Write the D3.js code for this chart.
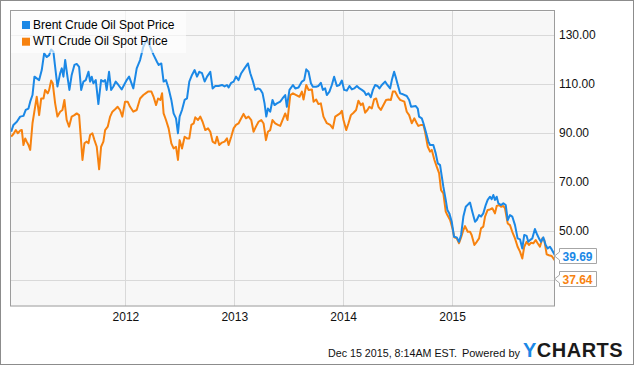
<!DOCTYPE html>
<html>
<head>
<meta charset="utf-8">
<script src="https://cdn.jsdelivr.net/npm/d3@7"></script>
<style>
  body { margin: 0; background: #fff; }
  svg { display: block; font-family: "Liberation Sans", Arial, sans-serif; }
  .grid line { stroke: #d9d9d9; stroke-width: 1; }
  .tick text { fill: #111; font-size: 12px; }
</style>
</head>
<body>
<script>
var width = 635,
    height = 366;

// decimal years
var brentYear = [2010.951, 2010.972, 2011.003, 2011.034, 2011.064, 2011.085, 2011.110, 2011.126, 2011.147, 2011.165,
    2011.186, 2011.208, 2011.232, 2011.254, 2011.278, 2011.300, 2011.318, 2011.339, 2011.355, 2011.376,
    2011.401, 2011.416, 2011.431, 2011.447, 2011.468, 2011.486, 2011.507, 2011.532, 2011.553, 2011.575,
    2011.594, 2011.615, 2011.636, 2011.661, 2011.676, 2011.691, 2011.706, 2011.728, 2011.752, 2011.777,
    2011.798, 2011.814, 2011.828, 2011.850, 2011.869, 2011.890, 2011.911, 2011.936, 2011.966, 2012.012,
    2012.034, 2012.073, 2012.104, 2012.135, 2012.165, 2012.195, 2012.214, 2012.260, 2012.291, 2012.306,
    2012.330, 2012.351, 2012.373, 2012.397, 2012.422, 2012.443, 2012.465, 2012.483, 2012.498, 2012.520,
    2012.544, 2012.566, 2012.587, 2012.612, 2012.636, 2012.658, 2012.679, 2012.704, 2012.728, 2012.750,
    2012.780, 2012.801, 2012.826, 2012.856, 2012.887, 2012.911, 2012.933, 2012.948, 2012.972, 2012.994,
    2013.016, 2013.039, 2013.064, 2013.094, 2013.126, 2013.147, 2013.168, 2013.193, 2013.217, 2013.239,
    2013.260, 2013.278, 2013.294, 2013.309, 2013.330, 2013.351, 2013.370, 2013.392, 2013.422, 2013.443,
    2013.468, 2013.483, 2013.507, 2013.539, 2013.560, 2013.590, 2013.621, 2013.642, 2013.661, 2013.682,
    2013.704, 2013.722, 2013.752, 2013.773, 2013.795, 2013.814, 2013.835, 2013.850, 2013.874, 2013.896,
    2013.917, 2013.942, 2013.966, 2013.988, 2014.009, 2014.034, 2014.058, 2014.080, 2014.101, 2014.126,
    2014.150, 2014.172, 2014.193, 2014.211, 2014.232, 2014.254, 2014.273, 2014.294, 2014.315, 2014.333,
    2014.355, 2014.385, 2014.406, 2014.431, 2014.447, 2014.468, 2014.486, 2014.502, 2014.523, 2014.550,
    2014.584, 2014.606, 2014.624, 2014.667, 2014.685, 2014.697, 2014.722, 2014.737, 2014.759, 2014.783,
    2014.798, 2014.828, 2014.850, 2014.869, 2014.890, 2014.906, 2014.920, 2014.942, 2014.957, 2014.975,
    2014.997, 2015.018, 2015.043, 2015.064, 2015.083, 2015.104, 2015.126, 2015.150, 2015.165, 2015.186,
    2015.211, 2015.227, 2015.248, 2015.266, 2015.287, 2015.309, 2015.327, 2015.349, 2015.364, 2015.379,
    2015.394, 2015.410, 2015.425, 2015.450, 2015.471, 2015.493, 2015.511, 2015.532, 2015.553, 2015.578,
    2015.602, 2015.624, 2015.645, 2015.663, 2015.685, 2015.700, 2015.716, 2015.737, 2015.761, 2015.777,
    2015.798, 2015.817, 2015.838, 2015.860, 2015.878, 2015.899, 2015.915, 2015.950];

var brentPrice = [90.5, 93.3, 94.6, 96.7, 97.0, 99.4, 100.0, 102.8, 105.5, 113.0,
    112.3, 111.6, 115.7, 122.5, 121.0, 121.8, 124.1, 123.2, 117.0, 109.0,
    114.4, 116.4, 113.0, 119.8, 113.0, 107.6, 113.7, 117.8, 118.2, 117.0,
    107.6, 111.0, 111.6, 115.0, 111.0, 113.0, 110.3, 111.6, 101.8, 111.6,
    111.0, 111.6, 107.6, 115.0, 107.6, 109.0, 111.0, 109.6, 107.8, 111.6,
    113.0, 108.2, 116.4, 119.8, 125.2, 128.0, 126.6, 121.8, 119.0, 117.8,
    118.4, 111.0, 111.6, 108.2, 103.5, 98.0, 96.0, 89.9, 96.7, 99.4,
    103.5, 104.1, 111.0, 113.7, 115.7, 113.0, 115.0, 114.4, 111.0, 113.0,
    115.0, 108.2, 109.2, 109.2, 109.6, 109.0, 109.6, 108.6, 110.5, 111.0,
    113.0, 111.6, 114.4, 116.4, 118.4, 114.4, 111.6, 107.6, 108.2, 107.8,
    106.2, 102.1, 96.7, 100.0, 98.7, 103.5, 101.4, 102.1, 102.8, 104.1,
    105.5, 100.7, 107.6, 109.6, 108.2, 108.6, 111.0, 111.6, 116.0, 115.0,
    110.3, 108.9, 108.9, 109.2, 110.5, 107.6, 108.2, 105.5, 106.9, 109.6,
    113.0, 109.2, 109.6, 111.4, 107.6, 107.3, 109.2, 107.8, 108.2, 109.2,
    108.2, 107.6, 106.9, 105.5, 106.2, 104.6, 107.6, 109.6, 109.2, 108.2,
    109.6, 111.0, 109.6, 108.2, 111.6, 115.0, 112.3, 109.6, 106.2, 105.8,
    105.1, 103.5, 100.7, 101.0, 100.0, 96.7, 96.0, 94.0, 90.5, 86.5,
    85.1, 85.1, 81.7, 77.6, 76.9, 72.2, 68.1, 62.7, 58.6, 57.2,
    53.8, 47.7, 47.4, 45.6, 48.4, 55.9, 59.9, 61.0, 61.6, 57.9,
    53.8, 54.5, 56.5, 55.9, 57.2, 60.6, 62.7, 64.0, 63.0, 64.7,
    62.7, 64.0, 61.3, 60.6, 61.3, 60.6, 54.5, 56.5, 55.9, 52.4,
    47.0, 46.6, 42.9, 48.4, 48.0, 45.6, 46.3, 47.0, 50.8, 49.0,
    47.0, 45.6, 47.4, 44.3, 42.9, 43.6, 42.5, 39.69];

var wtiYear = [2010.951, 2010.972, 2010.994, 2011.012, 2011.034, 2011.049, 2011.064, 2011.080, 2011.094, 2011.110,
    2011.126, 2011.147, 2011.171, 2011.186, 2011.208, 2011.227, 2011.248, 2011.263, 2011.287, 2011.300,
    2011.318, 2011.333, 2011.355, 2011.376, 2011.401, 2011.422, 2011.440, 2011.461, 2011.483, 2011.507,
    2011.532, 2011.553, 2011.575, 2011.606, 2011.624, 2011.645, 2011.661, 2011.676, 2011.697, 2011.716,
    2011.737, 2011.759, 2011.777, 2011.798, 2011.814, 2011.838, 2011.860, 2011.881, 2011.906, 2011.929,
    2011.951, 2011.972, 2011.997, 2012.021, 2012.043, 2012.073, 2012.104, 2012.135, 2012.165, 2012.195,
    2012.208, 2012.239, 2012.260, 2012.282, 2012.300, 2012.321, 2012.337, 2012.351, 2012.373, 2012.397,
    2012.422, 2012.443, 2012.465, 2012.483, 2012.498, 2012.520, 2012.544, 2012.566, 2012.587, 2012.606,
    2012.627, 2012.642, 2012.667, 2012.688, 2012.709, 2012.734, 2012.759, 2012.780, 2012.801, 2012.826,
    2012.841, 2012.862, 2012.887, 2012.911, 2012.933, 2012.948, 2012.972, 2012.994, 2013.016, 2013.039,
    2013.064, 2013.085, 2013.107, 2013.131, 2013.156, 2013.177, 2013.199, 2013.223, 2013.248, 2013.269,
    2013.291, 2013.309, 2013.330, 2013.351, 2013.376, 2013.401, 2013.422, 2013.443, 2013.468, 2013.489,
    2013.514, 2013.539, 2013.569, 2013.599, 2013.621, 2013.636, 2013.661, 2013.682, 2013.713, 2013.728,
    2013.752, 2013.773, 2013.795, 2013.819, 2013.850, 2013.881, 2013.905, 2013.927, 2013.948, 2013.972,
    2013.988, 2014.003, 2014.028, 2014.049, 2014.071, 2014.095, 2014.119, 2014.140, 2014.162, 2014.181,
    2014.202, 2014.223, 2014.241, 2014.263, 2014.284, 2014.303, 2014.324, 2014.346, 2014.370, 2014.394,
    2014.416, 2014.438, 2014.456, 2014.477, 2014.502, 2014.523, 2014.562, 2014.584, 2014.606, 2014.630,
    2014.654, 2014.676, 2014.691, 2014.716, 2014.737, 2014.752, 2014.777, 2014.798, 2014.814, 2014.838,
    2014.859, 2014.881, 2014.899, 2014.920, 2014.942, 2014.957, 2014.982, 2015.003, 2015.021, 2015.043,
    2015.064, 2015.083, 2015.104, 2015.119, 2015.144, 2015.165, 2015.180, 2015.205, 2015.227, 2015.248,
    2015.266, 2015.287, 2015.303, 2015.327, 2015.349, 2015.370, 2015.394, 2015.410, 2015.431, 2015.450,
    2015.471, 2015.486, 2015.511, 2015.532, 2015.553, 2015.578, 2015.602, 2015.624, 2015.645, 2015.663,
    2015.685, 2015.706, 2015.725, 2015.746, 2015.768, 2015.786, 2015.807, 2015.829, 2015.847, 2015.869,
    2015.890, 2015.915, 2015.950];

var wtiPrice = [88.5, 89.6, 91.2, 89.9, 91.0, 91.2, 85.1, 87.8, 86.5, 85.1,
    83.1, 94.0, 100.7, 104.8, 97.3, 104.1, 104.1, 107.6, 106.2, 107.6,
    111.4, 110.3, 102.1, 96.7, 98.7, 99.4, 103.5, 95.3, 92.6, 96.7,
    97.3, 98.0, 97.3, 79.0, 85.8, 86.5, 85.8, 89.2, 89.9, 87.1,
    84.4, 75.2, 84.4, 86.5, 91.2, 92.6, 96.7, 98.7, 99.7, 100.7,
    99.4, 96.7, 102.8, 102.8, 100.7, 98.7, 99.4, 104.1, 105.5, 106.5,
    106.9, 106.9, 104.6, 101.4, 104.1, 103.5, 106.2, 98.0, 95.3, 91.9,
    85.8, 83.7, 84.4, 79.0, 87.1, 83.7, 88.5, 87.8, 87.8, 93.3,
    93.9, 96.4, 95.3, 96.7, 94.6, 91.2, 91.9, 90.5, 86.5, 85.8,
    88.5, 85.1, 86.1, 86.5, 87.8, 85.1, 88.5, 91.9, 93.3, 93.9,
    96.0, 97.8, 96.0, 96.7, 95.3, 90.5, 92.6, 94.6, 95.3, 93.9,
    87.1, 90.5, 91.2, 95.3, 93.9, 93.3, 92.9, 95.3, 98.0, 95.3,
    105.5, 106.2, 105.5, 104.8, 106.9, 103.7, 109.6, 107.6, 107.8, 102.8,
    103.7, 101.8, 102.1, 96.7, 94.0, 93.3, 91.9, 96.7, 97.3, 98.0,
    99.1, 95.3, 91.2, 94.0, 97.3, 98.3, 99.4, 103.2, 101.4, 102.1,
    98.3, 99.4, 100.7, 100.0, 103.7, 104.1, 100.7, 99.4, 101.4, 103.5,
    103.7, 103.5, 106.9, 106.9, 104.8, 103.5, 102.8, 98.7, 97.3, 94.0,
    96.0, 94.0, 92.9, 93.3, 93.3, 90.5, 84.4, 82.4, 83.1, 79.0,
    76.3, 73.6, 66.7, 65.4, 57.9, 56.5, 54.5, 51.1, 47.4, 47.0,
    45.0, 47.4, 50.4, 52.0, 49.7, 49.7, 48.4, 44.3, 45.6, 47.0,
    51.1, 51.8, 55.9, 58.6, 58.8, 59.3, 57.2, 60.2, 60.6, 59.9,
    60.2, 59.3, 53.1, 52.4, 49.7, 47.0, 43.6, 41.6, 38.8, 43.6,
    45.6, 44.3, 45.2, 45.0, 46.3, 45.0, 43.6, 47.0, 46.3, 40.5,
    40.1, 39.8, 37.64];

var seriesNames = ['Brent Crude Oil Spot Price', 'WTI Crude Oil Spot Price'];
var seriesColors = ['#1b88e6', '#f7820f'];
var priceTicks = [30, 50, 70, 90, 110, 130];
var yearTicks = [2012, 2013, 2014, 2015];
var stamp = 'Dec 15 2015, 8:14AM EST.';

var plot = { left: 10, right: 555, top: 11, bottom: 306 };

var svg = d3.select('body')
    .append('svg')
    .attr('width', width)
    .attr('height', height);

// outer frame
svg.append('rect')
    .attr('x', 0.5).attr('y', 0.5)
    .attr('width', width - 2).attr('height', height - 2)
    .attr('fill', '#fff')
    .attr('stroke', '#8c8c8c');

var x = d3.scaleLinear()
    .domain([2010.945, 2015.95])
    .range([plot.left + 0.5, plot.right + 0.5]);

var y = d3.scaleLinear()
    .domain([19.4, 139.8])
    .range([plot.bottom, plot.top]);

svg.append('rect')
    .attr('x', plot.left + 0.5).attr('y', plot.top + 0.5)
    .attr('width', plot.right - plot.left - 1)
    .attr('height', plot.bottom - plot.top)
    .attr('fill', '#f7f7f7');

svg.append('g')
    .attr('class', 'grid')
    .selectAll('line')
    .data(priceTicks).enter()
    .append('line')
    .attr('x1', plot.left).attr('x2', plot.right)
    .attr('y1', d => Math.round(y(d)) + 0.5)
    .attr('y2', d => Math.round(y(d)) + 0.5);

svg.append('g')
    .attr('class', 'grid')
    .selectAll('line')
    .data(yearTicks).enter()
    .append('line')
    .attr('y1', plot.top).attr('y2', plot.bottom)
    .attr('x1', d => Math.round(x(d)) + 0.5)
    .attr('x2', d => Math.round(x(d)) + 0.5);

var series = [
    { name: seriesNames[0], color: seriesColors[0], pts: d3.zip(brentYear, brentPrice) },
    { name: seriesNames[1], color: seriesColors[1], pts: d3.zip(wtiYear, wtiPrice) }
];

var line = d3.line()
    .x(d => x(d[0]))
    .y(d => y(d[1]));

svg.append('clipPath').attr('id', 'clip')
    .append('rect')
    .attr('x', plot.left).attr('y', plot.top)
    .attr('width', plot.right - plot.left).attr('height', plot.bottom - plot.top);

// WTI underneath, brent on top
svg.append('g')
    .attr('clip-path', 'url(#clip)')
    .selectAll('path')
    .data(series.slice().reverse()).enter()
    .append('path')
    .attr('d', d => line(d.pts))
    .attr('fill', 'none')
    .attr('stroke', d => d.color)
    .attr('stroke-width', 2)
    .attr('stroke-linejoin', 'round');

// plot border
svg.append('rect')
    .attr('x', plot.left + 0.5).attr('y', plot.top - 0.5)
    .attr('width', plot.right - plot.left - 1)
    .attr('height', plot.bottom - plot.top + 0.5)
    .attr('fill', 'none')
    .attr('stroke', '#9c9c9c');

// legend (washes out what's underneath)
var legend = svg.append('g');
legend.append('rect')
    .attr('x', plot.left + 1).attr('y', plot.top)
    .attr('width', 175).attr('height', 42)
    .attr('fill', '#fff')
    .attr('fill-opacity', 0.62);

var items = legend.selectAll('.item')
    .data(series).enter()
    .append('g')
    .attr('transform', (d, i) => 'translate(22,' + (21 + i * 16.7) + ')');

items.append('rect')
    .attr('width', 8).attr('height', 8)
    .attr('fill', d => d.color);

items.append('text')
    .attr('x', 11).attr('y', 7.6)
    .attr('font-size', 12)
    .attr('fill', '#000')
    .text(d => d.name);

// last-value flags
var flags = series.map(d => {
    var last = d.pts[d.pts.length - 1];
    return { color: d.color, value: last[1], cy: y(last[1]) };
});
flags.sort((a, b) => a.cy - b.cy);
var boxH = 15, gap = 8;
flags.forEach((f, i) => {
    if (i > 0 && f.cy - boxH / 2 < flags[i - 1].cy + boxH / 2 + gap)
        f.cy = flags[i - 1].cy + boxH + gap;
});

// a tick label sitting under a flag is hidden by it
var labelTicks = priceTicks.filter(t =>
    !flags.some(f => Math.abs(y(t) - f.cy) < boxH / 2 + 6));

// axes
var yAxis = d3.axisRight(y)
    .tickValues(labelTicks)
    .tickFormat(d3.format('.2f'))
    .tickSize(0)
    .tickPadding(4);

svg.append('g')
    .attr('transform', 'translate(' + plot.right + ',0)')
    .call(yAxis)
    .call(g => g.select('.domain').remove());

var xAxis = d3.axisBottom(x)
    .tickValues(yearTicks)
    .tickFormat(d3.format('d'))
    .tickSize(0)
    .tickPadding(6);

svg.append('g')
    .attr('transform', 'translate(0,' + plot.bottom + ')')
    .call(xAxis)
    .call(g => g.select('.domain').remove());

var bx = 559.5, bw = 37;
var flag = svg.append('g')
    .selectAll('g')
    .data(flags).enter()
    .append('g')
    .attr('transform', d => 'translate(0,' + Math.round(d.cy) + ')');

flag.append('path')
    .attr('d', 'M' + bx + ',-7.5H' + (bx + bw) + 'V7.5H' + bx +
        'V4L' + (bx - 5) + ',0L' + bx + ',-4Z')
    .attr('fill', '#fff')
    .attr('stroke', '#a6a6a6');

flag.append('text')
    .attr('x', bx + 3)
    .attr('y', 4.5)
    .attr('font-size', 12)
    .attr('font-weight', 'bold')
    .attr('fill', d => d.color)
    .text(d => d3.format('.2f')(d.value));

// footer
svg.append('text')
    .attr('x', 328).attr('y', 356.5)
    .attr('font-size', 11)
    .attr('fill', '#111')
    .attr('textLength', 129)
    .attr('lengthAdjust', 'spacingAndGlyphs')
    .text(stamp);

svg.append('text')
    .attr('x', 520).attr('y', 356.5)
    .attr('text-anchor', 'end')
    .attr('font-size', 11)
    .attr('fill', '#111')
    .text('Powered by');

var logo = svg.append('text')
    .attr('x', 523).attr('y', 356.5)
    .attr('font-size', 20)
    .attr('font-weight', 'bold')
    .attr('letter-spacing', 0.5);
logo.append('tspan').attr('fill', '#1b88e6').text('Y');
logo.append('tspan').attr('fill', '#1a1a1a').text('CHARTS');
</script>
</body>
</html>
